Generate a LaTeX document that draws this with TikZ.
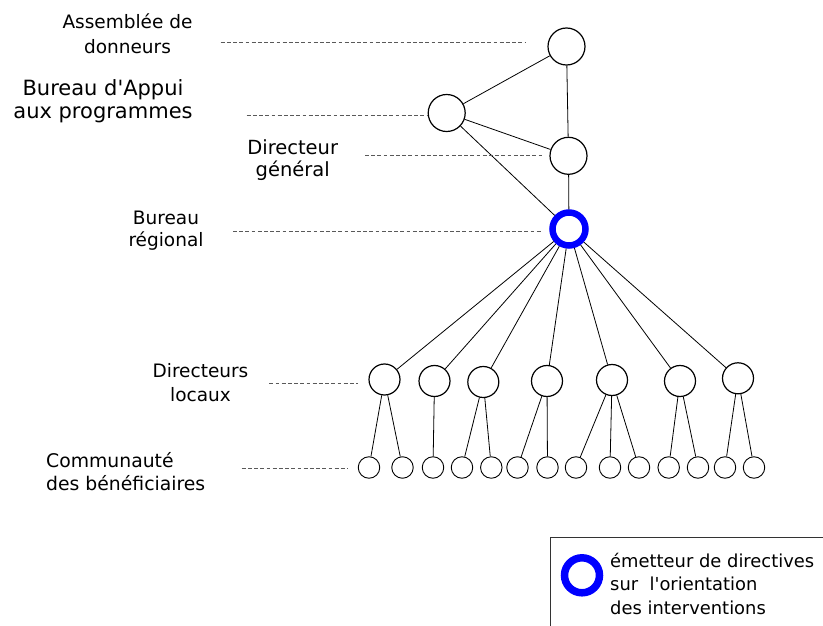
\documentclass[tikz,border=0pt]{standalone}
\usepackage{fontspec}
\setmainfont{DejaVu Sans}
\begin{document}
\begin{tikzpicture}[x=1pt,y=-1pt,
        chef/.style={shape=circle,draw=black,line width=1.2pt,minimum size=37pt,inner sep=0pt},
        local/.style={shape=circle,draw=black,line width=1.2pt,minimum size=31pt,inner sep=0pt},
        benef/.style={shape=circle,draw=black,line width=0.9pt,minimum size=21.5pt,inner sep=0pt},
        emetteur/.style={shape=circle,draw=blue,line width=6.5pt,minimum size=33pt,inner sep=0pt},
        niveau/.style={align=center,anchor=base,inner sep=0pt,font=\fontsize{18.5}{24}\selectfont},
        tirets/.style={draw=black!65,line width=1pt,dash pattern=on 3.8pt off 2.4pt},
        lien/.style={draw=black,line width=0.8pt}]
        \useasboundingbox (0,0) rectangle (823,626);

        % organes de direction
        \node[chef] (ad) at (566.5,46.5) {};
        \node[chef] (bap) at (446.7,113) {};
        \node[chef] (dg) at (568.5,155.8) {};
        \node[emetteur] (br) at (569,229) {};

        % directeurs locaux
        \node[local] (l1) at (384.5,379.5) {};
        \node[local] (l2) at (434.5,381) {};
        \node[local] (l3) at (483.3,382) {};
        \node[local] (l4) at (547,381) {};
        \node[local] (l5) at (612,380) {};
        \node[local] (l6) at (680,381) {};
        \node[local] (l7) at (738,378.3) {};

        % beneficiaires
        \node[benef] (c1) at (369,467.5) {};
        \node[benef] (c2) at (402.5,467.5) {};
        \node[benef] (c3) at (433,467.5) {};
        \node[benef] (c4) at (462,467.5) {};
        \node[benef] (c5) at (491.3,467.5) {};
        \node[benef] (c6) at (517.5,467.5) {};
        \node[benef] (c7) at (547.5,467.5) {};
        \node[benef] (c8) at (576,467.5) {};
        \node[benef] (c9) at (610,467.5) {};
        \node[benef] (c10) at (639,467.5) {};
        \node[benef] (c11) at (668.7,467.5) {};
        \node[benef] (c12) at (698,467.5) {};
        \node[benef] (c13) at (725,467.5) {};
        \node[benef] (c14) at (754,467.5) {};

        \path [lien] (ad) edge (bap); \path [lien] (ad) edge (dg); \path [lien]
        (bap) edge (dg); \path [lien] (bap) edge (br); \path [lien] (dg) edge
        (br);
        \path [lien] (br) edge (l1); \path [lien] (br) edge (l2); \path [lien]
        (br) edge (l3); \path [lien] (br) edge (l4); \path [lien] (br) edge
        (l5); \path [lien] (br) edge (l6); \path [lien] (br) edge (l7);
        \path [lien] (l1) edge (c1); \path [lien] (l1) edge (c2); \path [lien]
        (l2) edge (c3); \path [lien] (l3) edge (c4); \path [lien] (l3) edge
        (c5); \path [lien] (l4) edge (c6); \path [lien] (l4) edge (c7); \path
        [lien] (l5) edge (c8); \path [lien] (l5) edge (c9); \path [lien] (l5)
        edge (c10); \path [lien] (l6) edge (c11); \path [lien] (l6) edge (c12);
        \path [lien] (l7) edge (c13); \path [lien] (l7) edge (c14);

        % niveaux (base = ligne du bas)
        \node[niveau,font=\fontsize{18.5}{25}\selectfont] (tad) at (127.5,54) {Assemblée de\\donneurs};
        \node[niveau,font=\fontsize{21}{23.5}\selectfont] (tbap) at (103,119) {Bureau d\textquotesingle Appui\\aux programmes};
        \node[niveau,font=\fontsize{19.5}{22}\selectfont] (tdg) at (292.7,176.5) {Directeur\\général};
        \node[niveau,font=\fontsize{18.5}{22}\selectfont] (tbr) at (166,246) {Bureau\\régional};
        \node[niveau,font=\fontsize{18.5}{23.5}\selectfont] (tdl) at (200.5,401) {Directeurs\\locaux};
        \node[niveau,align=left,anchor=base west,font=\fontsize{18.8}{23}\selectfont] (tcb) at (46,490) {Communauté\\des bénéficiaires};

        \coordinate (ad1) at (220.7,42.3); \coordinate (ad2) at (525,42.3);
        \coordinate (bap1) at (246.7,116); \coordinate (bap2) at (427,116);
        \coordinate (dg1) at (365,155.7); \coordinate (dg2) at (541.7,155.7);
        \coordinate (br1) at (233,231.7); \coordinate (br2) at (541.7,231.7);
        \coordinate (dl1) at (269.3,383.3); \coordinate (dl2) at (358.3,383.3);
        \coordinate (cb1) at (241.7,468.3); \coordinate (cb2) at (348.3,468.3);
        \path [tirets] (ad1) edge (ad2); \path [tirets] (bap1) edge (bap2);
        \path [tirets] (dg1) edge (dg2); \path [tirets] (br1) edge (br2);
        \path [tirets] (dl1) edge (dl2); \path [tirets] (cb1) edge (cb2);

        % legende
        \draw[black!80,line width=1pt] (550,626) |- (823,537.3);
        \node[shape=circle,draw=blue,line width=7.5pt,minimum size=35pt,inner sep=0pt] (leg) at (582,575.3) {};
        \node[align=left,anchor=base west,inner sep=0pt,font=\fontsize{17.9}{23.5}\selectfont] (tleg) at (610,614)
        {émetteur de directives\\sur~~l\textquotesingle orientation\\des interventions};
    \end{tikzpicture}
\end{document}
